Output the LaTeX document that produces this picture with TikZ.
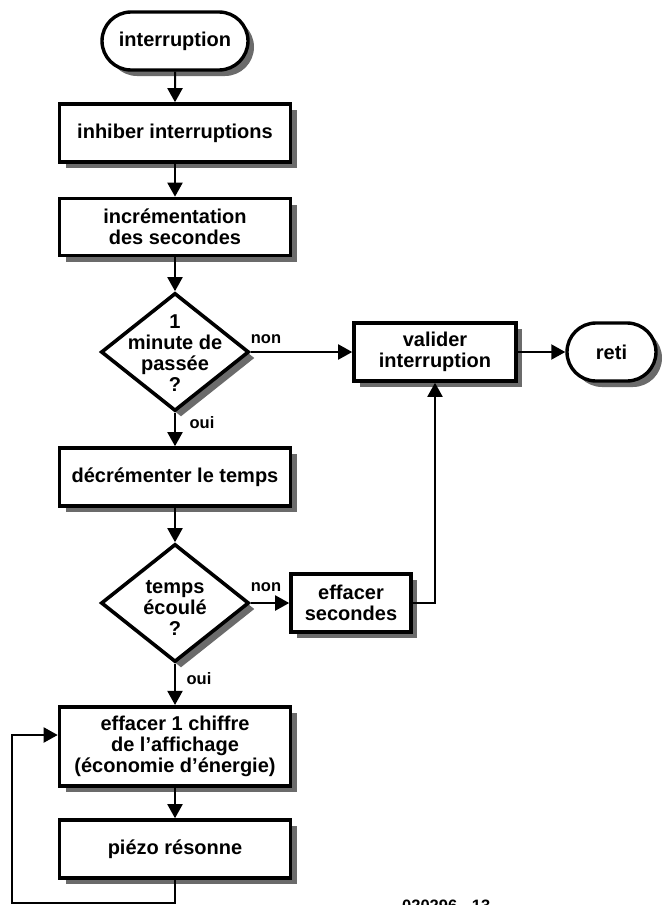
\documentclass[tikz,border=0pt]{standalone}
\usepackage{fontspec}
\setmainfont{Liberation Sans}
\usetikzlibrary{shapes.geometric,shapes.misc,shadows,arrows.meta}
\begin{document}
\begin{tikzpicture}[x=1pt,y=-1pt,
  txt/.style={font=\bfseries\fontsize{20}{20.5}\selectfont, align=center},
  shad/.style={drop shadow={shadow xshift=6pt,shadow yshift=-6pt,fill=black!58,opacity=1}},
  procbox/.style={txt, draw, line width=3.6pt, fill=white, shad, inner sep=0pt, minimum height=58pt},
  term/.style={txt, rounded rectangle, draw, line width=3.4pt, fill=white, shad, inner sep=0pt, minimum height=58pt},
  dia/.style={diamond, draw, line width=3.6pt, fill=white, shad, inner sep=0pt, minimum width=148pt, minimum height=118pt},
  conn/.style={line width=2pt, -{Triangle[length=14pt,width=15pt]}},
  lbl/.style={font=\bfseries\fontsize{16.5}{16.5}\selectfont, inner sep=0pt},
]
\useasboundingbox (0,0) rectangle (662,905);
\clip (0,0) rectangle (662,905);

% nodes
\node[term, minimum width=146pt] (start) at (175,41) {interruption};
\node[procbox, minimum width=231pt] (inh) at (175,133) {inhiber interruptions};
\node[procbox, minimum width=231pt, minimum height=57pt] (inc) at (175,227) {incrémentation\\des secondes};
\node[dia] (d1) at (175,352) {};
\node[txt, font=\bfseries\fontsize{20}{21}\selectfont] (d1t) at (175,353) {1\\minute de\\passée\\?};
\node[procbox, minimum width=162pt] (val) at (435,352) {valider\\interruption};
\node[term, minimum width=89pt] (reti) at (611.5,352) {reti};
\node[procbox, minimum width=231pt] (dec) at (175,477) {décrémenter le temps};
\node[dia] (d2) at (175,603) {};
\node[txt, font=\bfseries\fontsize{20}{21}\selectfont] (d2t) at (175,608) {temps\\écoulé\\?};
\node[procbox, minimum width=120pt] (effs) at (351,603) {effacer\\secondes};
\node[procbox, minimum width=231pt, minimum height=79.5pt, font=\bfseries\fontsize{20}{21}\selectfont] (eff1) at (175,746.5) {effacer 1 chiffre\\de l’affichage\\(économie d’énergie)};
\node[procbox, minimum width=231pt] (piezo) at (175,849) {piézo résonne};

% labels
\node[lbl] (n1) at (266,339) {non};
\node[lbl] (o1) at (202,423) {oui};
\node[lbl] (n2) at (266,587) {non};
\node[lbl] (o2) at (199,679) {oui};
\node[lbl, anchor=base west] (code) at (402,911) {020296 - 13};

% free ends of the loop
\coordinate (lb) at (12,903);
\coordinate (lt) at (12,735);

% connectors
\draw[conn] (start) -- (inh);
\draw[conn] (inh) -- (inc);
\draw[conn] (inc) -- (d1);
\draw[conn] (d1.east) -- (val.west);
\draw[conn] (val) -- (reti);
\draw[conn] (d1) -- (dec);
\draw[conn] (dec) -- (d2);
\draw[conn] (d2.east) -- (effs.west);
\draw[conn] (effs.east) -| (val.south);
\draw[conn] (d2) -- (eff1);
\draw[conn] (eff1) -- (piezo);
\draw[conn] (piezo.south) |- (lb) -- (lt) -- (lt -| eff1.west);
\end{tikzpicture}
\end{document}
